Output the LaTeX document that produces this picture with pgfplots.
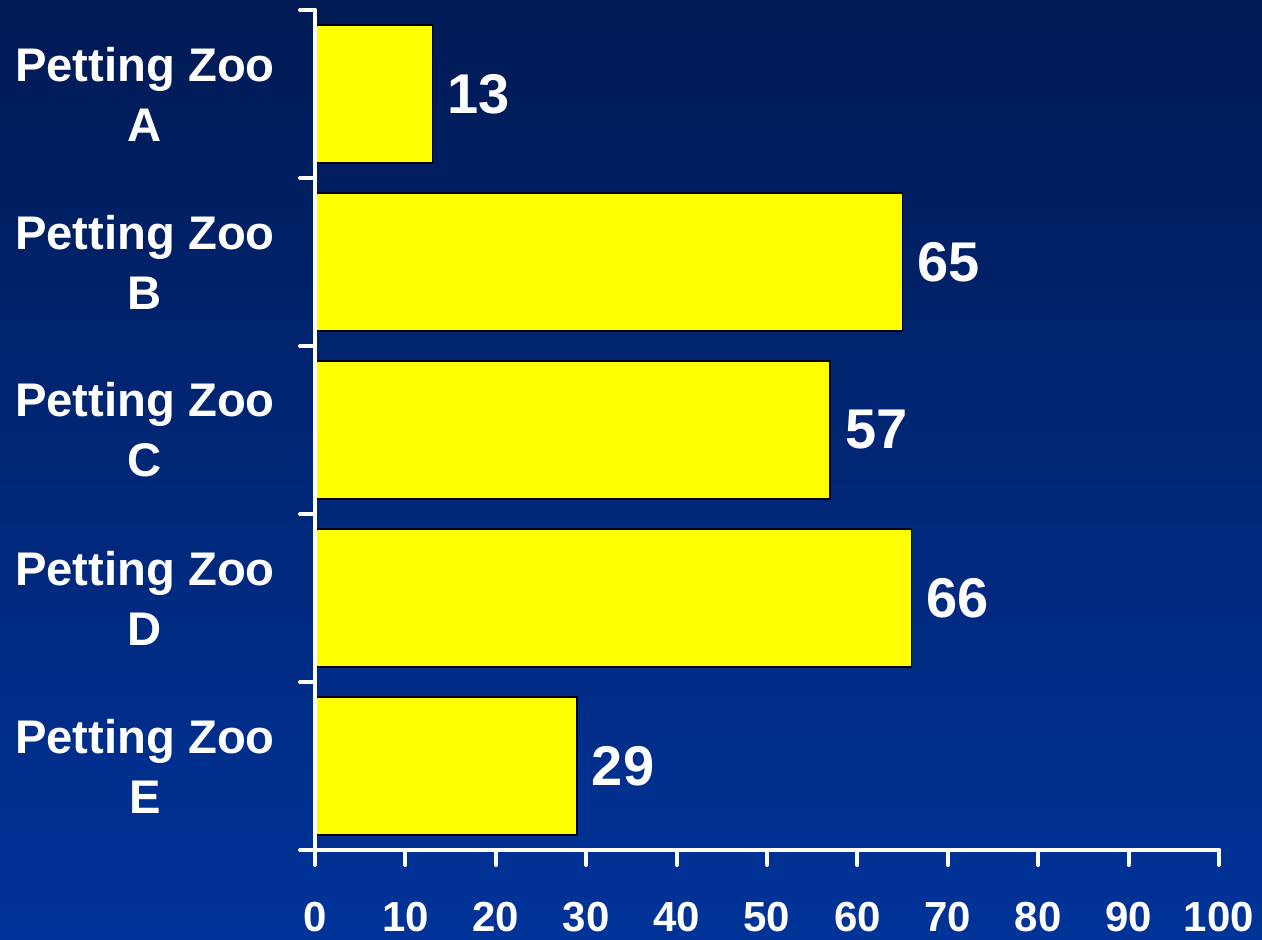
\documentclass[border=0pt]{standalone}
\usepackage{pgfplots}
\pgfplotsset{compat=1.18}
\usepackage{fontspec}
\setmainfont{Liberation Sans}
\definecolor{bgtop}{RGB}{0,26,84}
\definecolor{bgbot}{RGB}{0,51,153}
\definecolor{baryellow}{RGB}{255,255,0}
\begin{document}
\begin{tikzpicture}
\path[use as bounding box, top color=bgtop, bottom color=bgbot] (-157.5pt,-44.5pt) rectangle (473.5pt,425pt);
\begin{axis}[
  at={(0,0)}, anchor=south west,
  scale only axis, width=452pt, height=420pt,
  xbar, bar width=0.82,
  xmin=0, xmax=100, ymin=-0.5, ymax=4.5,
  axis x line=bottom, axis y line=left,
  axis on top,
  axis line style={-, white, line width=2pt, line cap=round},
  xtick={0,10,...,100},
  ytick={-0.5,0.5,1.5,2.5,3.5,4.5},
  yticklabels={},
  extra y ticks={0,1,2,3,4},
  extra y tick labels={{Petting Zoo\\E},{Petting Zoo\\D},{Petting Zoo\\C},{Petting Zoo\\B},{Petting Zoo\\A}},
  extra tick style={major tick length=0pt},
  tick align=outside,
  major tick length=7.5pt,
  every tick/.style={white, line width=2pt, line cap=round},
  xticklabel style={font=\bfseries\fontsize{21}{25}\selectfont, text=white, anchor=north, inner sep=0pt, yshift=-18.5pt},
  yticklabel style={font=\bfseries\fontsize{23.6}{30}\selectfont, text=white, align=center, anchor=center, inner sep=0pt, xshift=-85pt},
  /pgf/number format/assume math mode=true,
  point meta=x,
  nodes near coords,
  nodes near coords style={font=\bfseries\fontsize{28}{32}\selectfont, text=white, anchor=west, inner sep=0pt, xshift=7pt},
  clip=false,
]
\addplot[fill=baryellow, draw=black, line width=0.8pt] coordinates {(29,0) (66,1) (57,2) (65,3) (13,4)};
\end{axis}
\end{tikzpicture}
\end{document}
